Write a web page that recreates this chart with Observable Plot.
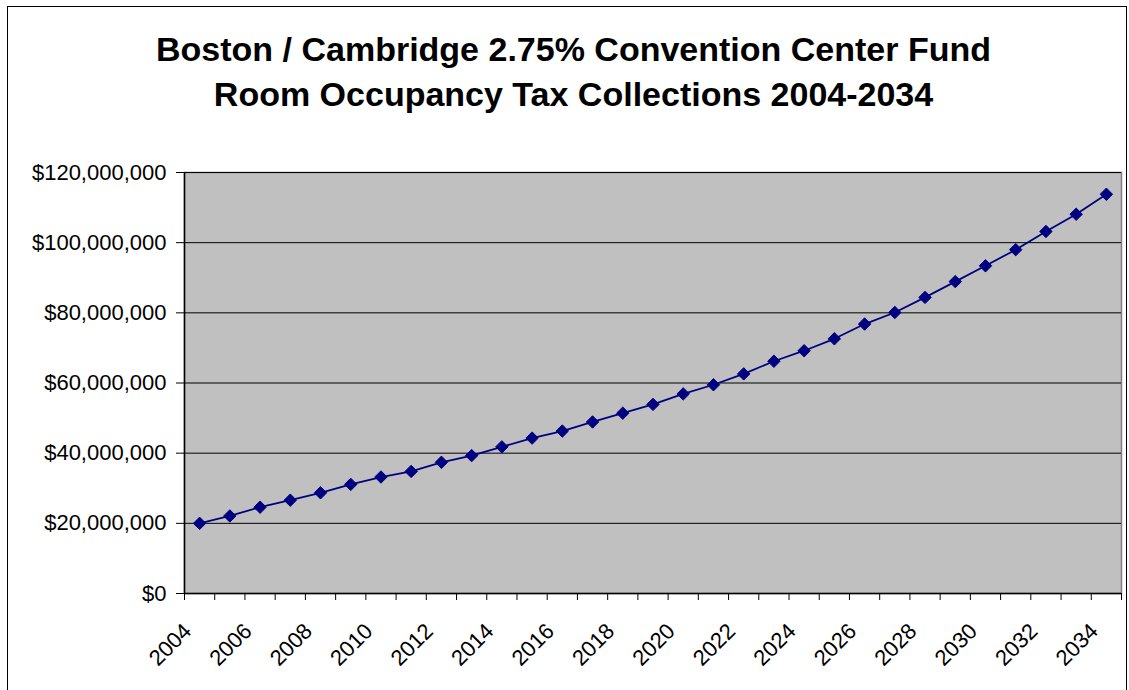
<!DOCTYPE html>
<html>
<head>
<meta charset="utf-8">
<script src="https://cdn.jsdelivr.net/npm/d3@7"></script>
<script src="https://cdn.jsdelivr.net/npm/@observablehq/plot@0.6"></script>
<style>
  html, body { margin: 0; padding: 0; background: #fff; }
  #wrap { position: relative; width: 1129px; height: 690px; overflow: hidden; font-family: "Liberation Sans", Arial, sans-serif; }
  #frame { position: absolute; left: 7px; top: 6px; width: 1120px; height: 700px; border: 1px solid #000; box-sizing: border-box; }
  #title { position: absolute; left: 9px; top: 27px; width: 1129px; text-align: center; font-weight: bold; font-size: 34px; line-height: 45px; color: #000; }
  #chart { position: absolute; left: 0; top: 0; }
</style>
</head>
<body>
<div id="wrap">
  <div id="frame"></div>
  <div id="title">Boston / Cambridge 2.75% Convention Center Fund<br>Room Occupancy Tax Collections 2004-2034</div>
  <div id="chart"></div>
</div>
<script>
const years = d3.range(2004, 2035);
const collections = [
  20.0, 22.1, 24.6, 26.6, 28.7, 31.1, 33.2, 34.8, 37.4, 39.3,
  41.8, 44.3, 46.3, 48.9, 51.4, 53.9, 56.9, 59.5, 62.6, 66.2,
  69.2, 72.6, 76.8, 80.1, 84.4, 88.9, 93.4, 98.0, 103.2, 108.1, 113.8
].map(v => v * 1e6);
const yTicks = [0, 20e6, 40e6, 60e6, 80e6, 100e6, 120e6];
const xLabelYears = years.filter(y => y % 2 === 0);

const data = years.map((y, i) => ({year: y, value: collections[i]}));
const boundaries = d3.range(2003.5, 2035, 1);

const chart = Plot.plot({
  width: 1129,
  height: 690,
  marginLeft: 184,
  marginRight: 8,
  marginTop: 172,
  marginBottom: 97,
  style: {fontFamily: "'Liberation Sans', Arial, sans-serif", fontSize: "22px", color: "#000", background: "transparent"},
  x: {domain: [2003.5, 2034.5]},
  y: {domain: [0, 120e6]},
  marks: [
    Plot.frame({fill: "#c0c0c0", stroke: "#808080", strokeWidth: 1.5}),
    Plot.gridY(yTicks, {stroke: "#000", strokeOpacity: 1, strokeWidth: 1}),
    Plot.ruleX([2003.5], {stroke: "#000", strokeWidth: 1.5}),
    Plot.ruleY([0], {stroke: "#000", strokeWidth: 1.5}),
    Plot.axisY({ticks: yTicks, tickSize: 8, tickPadding: 10, tickFormat: d => "$" + d3.format(",")(d), label: null, fontSize: 22}),
    Plot.axisX({ticks: boundaries, tickSize: 7, tickFormat: () => "", label: null}),
    Plot.axisX({ticks: xLabelYears, tickSize: 0, tickPadding: 34, dx: -12, tickRotate: -45, tickFormat: d => String(d), label: null, fontSize: 22}),
    Plot.line(data, {x: "year", y: "value", stroke: "#000080", strokeWidth: 1.8}),
    Plot.dot(data, {x: "year", y: "value", symbol: "diamond2", r: 5.6, fill: "#000080", stroke: "#000080", strokeWidth: 1})
  ]
});
document.getElementById("chart").appendChild(chart);
</script>
</body>
</html>
